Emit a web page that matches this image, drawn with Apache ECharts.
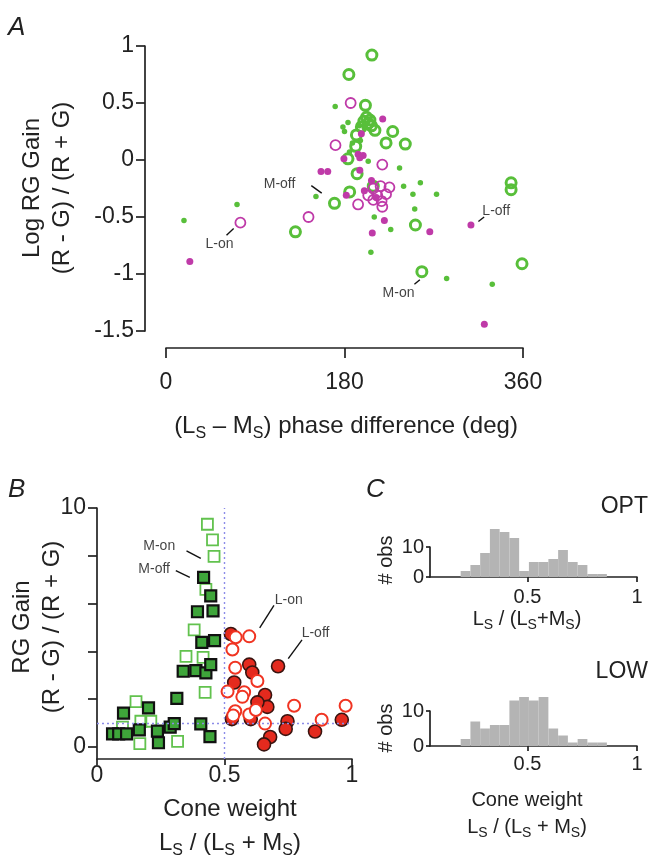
<!DOCTYPE html>
<html><head><meta charset="utf-8">
<script src="https://cdn.jsdelivr.net/npm/echarts@6/dist/echarts.min.js"></script>
<style>html,body{margin:0;padding:0;background:#fff}#c{width:648px;height:861px}</style>
</head><body><div id="c"></div>
<script>
// ---------- Panel A data: [phase difference (deg), log RG gain] ----------
const aGreenRings = [[207.6,0.92],[184.4,0.75],[201.1,0.48],[202.2,0.375],[205.6,0.35],[199.5,0.34],[203.9,0.32],[197,0.29],[207.2,0.30],[210.7,0.26],[228.6,0.25],[192,0.22],[221.9,0.15],[241.3,0.14],[191.3,0.12],[183.5,0.01],[192.7,-0.12],[209,-0.23],[185.2,-0.28],[169.9,-0.38],[130.5,-0.63],[251.5,-0.57],[258,-0.98],[348,-0.2],[348,-0.26],[359,-0.91]];
const aGreenDots = [[170.6,0.47],[178.4,0.29],[180,0.25],[183.5,0.33],[195,0.30],[200,0.28],[205,0.36],[188,0.15],[203.9,-0.01],[235.5,-0.07],[239.6,-0.23],[256.5,-0.2],[249,-0.3],[272.8,-0.3],[250.8,-0.43],[151.2,-0.32],[71.6,-0.39],[18.1,-0.53],[210,-0.5],[226.6,-0.61],[206.6,-0.81],[283,-1.04],[329,-1.09],[185,0.07],[196,0.17]];
const aMagentaOpen = [[186.2,0.50],[170.9,0.13],[218.1,-0.04],[143.7,-0.5],[75,-0.55],[209,-0.25],[216.4,-0.23],[225.3,-0.24],[203.9,-0.31],[213,-0.31],[221.9,-0.30],[209,-0.35],[217.4,-0.36],[193.7,-0.39],[218.1,-0.41]];
const aMagentaDots = [[218.5,0.36],[197,0.23],[193.7,0.05],[198.8,0.04],[179.4,0.01],[195.4,0.02],[156.3,-0.10],[163.1,-0.10],[195.4,-0.09],[181.8,-0.31],[207.2,-0.18],[220.2,-0.53],[208,-0.64],[266,-0.63],[307.5,-0.57],[24,-0.89],[321,-1.44],[200,-0.27],[212,-0.33]];
const aLabels = [['M-off',114.5,-0.21],['L-on',53.9,-0.74],['L-off',333,-0.45],['M-on',234.5,-1.17]];
const aLeaders = [[[146.5,-0.225],[157,-0.29]],[[61,-0.66],[68.2,-0.6]],[[315,-0.54],[320.8,-0.5]],[[250.5,-1.09],[256,-1.05]]];
const aYTicks = [-1.5,-1,-0.5,0,0.5,1];
const aXTicks = [0,180,360];

// ---------- Panel B data: [cone weight, RG gain] ----------
const bLightSquares = [[0.433,9.32],[0.453,8.67],[0.459,7.98],[0.427,6.6],[0.381,4.9],[0.349,3.79],[0.416,3.75],[0.424,2.29],[0.153,1.90],[0.172,1.08],[0.211,1.08],[0.1,0.83],[0.168,0.14],[0.316,0.24]];
const bDarkSquares = [[0.418,7.1],[0.446,6.32],[0.394,5.66],[0.455,5.7],[0.411,4.38],[0.461,4.45],[0.338,3.17],[0.388,3.2],[0.427,3.1],[0.446,3.45],[0.313,2.04],[0.202,1.64],[0.104,1.42],[0.061,0.55],[0.085,0.55],[0.116,0.55],[0.166,0.72],[0.237,0.67],[0.241,0.18],[0.287,0.83],[0.303,0.98],[0.407,0.97],[0.443,0.44]];
const bRedFilled = [[0.525,4.73],[0.597,3.45],[0.609,3.12],[0.71,3.38],[0.538,2.7],[0.659,2.18],[0.668,1.68],[0.629,1.87],[0.529,1.17],[0.603,1.17],[0.747,1.08],[0.74,0.76],[0.855,0.65],[0.96,1.14],[0.679,0.42],[0.655,0.11]];
const bRedOpen = [[0.544,4.59],[0.597,4.63],[0.531,4.08],[0.542,3.32],[0.629,2.76],[0.512,2.32],[0.577,2.29],[0.570,2.1],[0.542,1.50],[0.534,1.32],[0.597,1.36],[0.623,1.55],[0.659,0.98],[0.773,1.73],[0.881,1.14],[0.975,1.73]];
const bLabels = [['M-on',0.244,8.39],['M-off',0.224,7.45],['L-on',0.752,6.14],['L-off',0.857,4.76]];
const bLeaders = [[[0.351,8.21],[0.407,7.89]],[[0.309,7.38],[0.364,7.10]],[[0.694,5.93],[0.638,4.99]],[[0.804,4.48],[0.75,3.70]]];
const bYTicks = [0,2,4,6,8,10];
const bYLabels = [0,10];
const bXTicks = [0,0.5,1];

// ---------- Panel C data: histogram counts ----------
const binStart = 0.195, binWidth = 0.0445;
const optCounts = [2,4,8,16,15,13,2,5,5,6,9,5,4,1,1];
const lowCounts = [2,7,5,6,6,13,14,13,14,5,3,1,2,1,1];
const cXTicks = [0.5,1];
const cYTicks = [0,10];

const FONT = '"Liberation Sans", Arial, Helvetica, sans-serif';
const INK = '#222';
const GREEN = '#58bf3a', MAGENTA = '#bf3aa8';

function bins(counts){ return counts.map((c,i)=>[binStart+i*binWidth, binStart+(i+1)*binWidth, c]); }
function histItem(params, api){
  const p0 = api.coord([api.value(0), api.value(2)]);
  const p1 = api.coord([api.value(1), 0]);
  return {type:'rect', shape:{x:p0[0], y:p0[1], width:p1[0]-p0[0], height:p1[1]-p0[1]}, style:{fill:'#b4b4b4'}};
}
function leaderLines(list){ return list.map(s=>[{coord:s[0]},{coord:s[1]}]); }
function labelData(list){ return list.map(l=>({name:l[0], value:[l[1],l[2]]})); }

const axLine = {show:true, onZero:false, lineStyle:{color:INK, width:1.7}};
const chart = echarts.init(document.getElementById('c'), null, {renderer:'canvas'});

const sub = {fontSize:16, fontFamily:FONT, fill:INK, padding:[15,0,0,0]};
const subS = {fontSize:14, fontFamily:FONT, fill:INK, padding:[13,0,0,0]};
function tick(len, vals){ return {show:true, length:len, lineStyle:{color:INK,width:1.7}, customValues:vals}; }
function lab(size, margin, vals){ return {fontSize:size, color:INK, margin:margin, customValues:vals, fontFamily:FONT}; }

chart.setOption({
  animation:false,
  backgroundColor:'#fff',
  textStyle:{fontFamily:FONT},
  grid:[
    {left:145, top:46, width:378, height:285},
    {left:166, top:338, width:357, height:10},
    {left:97, top:508, width:255, height:251},
    {left:430, top:547, width:207, height:30},
    {left:430, top:711, width:207, height:35}
  ],
  xAxis:[
    {gridIndex:0, type:'value', min:-21.2, max:360, show:false},
    {gridIndex:1, type:'value', min:0, max:360, interval:180, axisLine:axLine,
      axisTick:tick(10, aXTicks), axisLabel:lab(23, 23, aXTicks), splitLine:{show:false}},
    {gridIndex:2, type:'value', min:0, max:1, interval:0.5, axisLine:axLine,
      axisTick:tick(6, bXTicks), axisLabel:lab(23, 5, bXTicks), splitLine:{show:false}},
    {gridIndex:3, type:'value', min:0.055, max:1, axisLine:axLine,
      axisTick:tick(5, cXTicks), axisLabel:lab(20, 10, cXTicks), splitLine:{show:false}},
    {gridIndex:4, type:'value', min:0.055, max:1, axisLine:axLine,
      axisTick:tick(5, cXTicks), axisLabel:lab(20, 8, cXTicks), splitLine:{show:false}}
  ],
  yAxis:[
    {gridIndex:0, type:'value', min:-1.5, max:1, interval:0.5, axisLine:axLine,
      axisTick:tick(9, aYTicks), axisLabel:lab(23, 11, aYTicks), splitLine:{show:false}},
    {gridIndex:1, type:'value', show:false},
    {gridIndex:2, type:'value', min:-0.5, max:10, axisLine:axLine,
      axisTick:tick(9, bYTicks), axisLabel:lab(23, 11, bYLabels), splitLine:{show:false}},
    {gridIndex:3, type:'value', min:0, max:10, axisLine:axLine,
      axisTick:tick(4, cYTicks), axisLabel:lab(20, 6, cYTicks), splitLine:{show:false}},
    {gridIndex:4, type:'value', min:0, max:10, axisLine:axLine,
      axisTick:tick(4, cYTicks), axisLabel:lab(20, 6, cYTicks), splitLine:{show:false}}
  ],
  series:[
    // Panel A
    {type:'scatter', xAxisIndex:0, yAxisIndex:0, clip:false, data:aGreenDots, symbolSize:5.5,
      itemStyle:{color:GREEN, opacity:1}},
    {type:'scatter', xAxisIndex:0, yAxisIndex:0, clip:false, data:aGreenRings, symbolSize:10,
      itemStyle:{color:'rgba(0,0,0,0)', borderColor:GREEN, borderWidth:3, opacity:1}},
    {type:'scatter', xAxisIndex:0, yAxisIndex:0, clip:false, data:aMagentaOpen, symbolSize:10,
      itemStyle:{color:'rgba(0,0,0,0)', borderColor:MAGENTA, borderWidth:1.8, opacity:1}},
    {type:'scatter', xAxisIndex:0, yAxisIndex:0, clip:false, data:aMagentaDots, symbolSize:7,
      itemStyle:{color:MAGENTA, opacity:1}},
    {type:'scatter', xAxisIndex:0, yAxisIndex:0, clip:false, data:labelData(aLabels), symbolSize:0,
      label:{show:true, position:'inside', formatter:'{b}', fontSize:14, color:'#111', fontFamily:FONT},
      markLine:{silent:true, symbol:'none', label:{show:false}, lineStyle:{color:'#111', type:'solid', width:1.4},
        data:leaderLines(aLeaders)}},
    // Panel B
    {type:'scatter', xAxisIndex:2, yAxisIndex:2, clip:false, data:bLightSquares, symbol:'rect', symbolSize:11,
      itemStyle:{color:'rgba(0,0,0,0)', borderColor:'#62c24e', borderWidth:1.8, opacity:1},
      markLine:{silent:true, symbol:'none', label:{show:false}, lineStyle:{color:'#8c8ce8', type:[2,3], width:1.4},
        data:[{xAxis:0.5},{yAxis:1}]}},
    {type:'scatter', xAxisIndex:2, yAxisIndex:2, clip:false, data:bDarkSquares, symbol:'rect', symbolSize:11,
      itemStyle:{color:'#3ea53a', borderColor:'#111', borderWidth:2.2, opacity:1}},
    {type:'scatter', xAxisIndex:2, yAxisIndex:2, clip:false, data:bRedFilled, symbolSize:13,
      itemStyle:{color:'#e42a1e', borderColor:'#3a1410', borderWidth:1.6, opacity:1}},
    {type:'scatter', xAxisIndex:2, yAxisIndex:2, clip:false, data:bRedOpen, symbolSize:12,
      itemStyle:{color:'#fff', borderColor:'#f03422', borderWidth:2, opacity:1}},
    {type:'scatter', xAxisIndex:2, yAxisIndex:2, clip:false, data:labelData(bLabels), symbolSize:0,
      label:{show:true, position:'inside', formatter:'{b}', fontSize:14, color:'#111', fontFamily:FONT},
      markLine:{silent:true, symbol:'none', label:{show:false}, lineStyle:{color:'#111', type:'solid', width:1.4},
        data:leaderLines(bLeaders)}},
    // Panel C
    {type:'custom', xAxisIndex:3, yAxisIndex:3, data:bins(optCounts), renderItem:histItem, encode:{x:[0,1], y:2}, clip:false, z:1},
    {type:'custom', xAxisIndex:4, yAxisIndex:4, data:bins(lowCounts), renderItem:histItem, encode:{x:[0,1], y:2}, clip:false, z:1}
  ],
  graphic:[
    {type:'text', x:8, y:28, style:{text:'A', font:'italic 26px '+FONT, fill:INK, verticalAlign:'middle'}},
    {type:'text', x:8, y:490, style:{text:'B', font:'italic 26px '+FONT, fill:INK, verticalAlign:'middle'}},
    {type:'text', x:366, y:490, style:{text:'C', font:'italic 26px '+FONT, fill:INK, verticalAlign:'middle'}},
    // Panel A titles
    {type:'text', x:32, y:188, rotation:Math.PI/2, style:{text:'Log RG Gain', font:'24px '+FONT, fill:INK, align:'center', verticalAlign:'middle'}},
    {type:'text', x:62, y:188, rotation:Math.PI/2, style:{text:'(R - G) / (R + G)', font:'24px '+FONT, fill:INK, align:'center', verticalAlign:'middle'}},
    {type:'text', x:346, y:426, style:{text:'(L{s|S} – M{s|S}) phase difference (deg)', font:'24px '+FONT, fill:INK, align:'center', verticalAlign:'middle', rich:{s:sub}}},
    // Panel B titles
    {type:'text', x:22, y:627, rotation:Math.PI/2, style:{text:'RG Gain', font:'24px '+FONT, fill:INK, align:'center', verticalAlign:'middle'}},
    {type:'text', x:52, y:627, rotation:Math.PI/2, style:{text:'(R - G) / (R + G)', font:'24px '+FONT, fill:INK, align:'center', verticalAlign:'middle'}},
    {type:'text', x:230, y:809, style:{text:'Cone weight', font:'24px '+FONT, fill:INK, align:'center', verticalAlign:'middle'}},
    {type:'text', x:230, y:843, style:{text:'L{s|S} / (L{s|S} + M{s|S})', font:'24px '+FONT, fill:INK, align:'center', verticalAlign:'middle', rich:{s:sub}}},
    // Panel C titles
    {type:'text', x:648, y:507, style:{text:'OPT', font:'23px '+FONT, fill:INK, align:'right', verticalAlign:'middle'}},
    {type:'text', x:648, y:672, style:{text:'LOW', font:'23px '+FONT, fill:INK, align:'right', verticalAlign:'middle'}},
    {type:'text', x:386, y:560, rotation:Math.PI/2, style:{text:'# obs', font:'20px '+FONT, fill:INK, align:'center', verticalAlign:'middle'}},
    {type:'text', x:386, y:728, rotation:Math.PI/2, style:{text:'# obs', font:'20px '+FONT, fill:INK, align:'center', verticalAlign:'middle'}},
    {type:'text', x:527, y:619, style:{text:'L{t|S} / (L{t|S}+M{t|S})', font:'20px '+FONT, fill:INK, align:'center', verticalAlign:'middle', rich:{t:subS}}},
    {type:'text', x:527, y:800, style:{text:'Cone weight', font:'20px '+FONT, fill:INK, align:'center', verticalAlign:'middle'}},
    {type:'text', x:527, y:827, style:{text:'L{t|S} / (L{t|S} + M{t|S})', font:'20px '+FONT, fill:INK, align:'center', verticalAlign:'middle', rich:{t:subS}}}
  ]
});
</script></body></html>
